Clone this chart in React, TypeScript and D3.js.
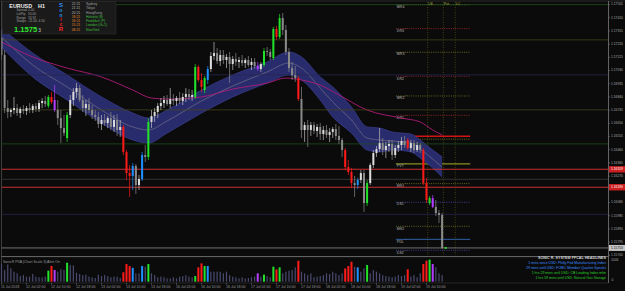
import React from "react";
import * as d3 from "d3";

// ---------- DATA ----------
const timeTickBars = [0, 8, 16, 24, 32, 40, 48, 56, 64, 72, 80, 88, 96, 104, 112, 120, 128, 136];
const timeTickLabels = [
  "11 Jul 2018", "12 Jul 02:00", "12 Jul 10:00", "12 Jul 18:00", "13 Jul 02:00", "13 Jul 10:00",
  "13 Jul 18:00", "16 Jul 02:00", "16 Jul 10:00", "16 Jul 18:00", "17 Jul 02:00", "17 Jul 10:00",
  "17 Jul 18:00", "18 Jul 02:00", "18 Jul 10:00", "18 Jul 18:00", "19 Jul 02:00", "19 Jul 10:00",
];

const priceTicks = [
  1.157, 1.15795, 1.1589, 1.15985, 1.1608, 1.16175, 1.1627, 1.16365, 1.1646, 1.16555,
  1.1665, 1.16745, 1.1684, 1.16935, 1.1703, 1.17125, 1.1722, 1.17315, 1.1741, 1.17505,
];

const opens = [
  1.17264, 1.17142, 1.16760, 1.16732, 1.16746, 1.16760, 1.16724, 1.16753, 1.16739, 1.16760,
  1.16746, 1.16775, 1.16753, 1.16796, 1.16811, 1.16775, 1.16840, 1.16818, 1.16746, 1.16688,
  1.16616, 1.16544, 1.16710, 1.16818, 1.16876, 1.16904, 1.16818, 1.16760, 1.16789, 1.16746,
  1.16710, 1.16696, 1.16645, 1.16674, 1.16652, 1.16688, 1.16624, 1.16674, 1.16602, 1.16624,
  1.16444, 1.16292, 1.16271, 1.16343, 1.16206, 1.16249, 1.16422, 1.16408, 1.16660, 1.16703,
  1.16732, 1.16775, 1.16796, 1.16818, 1.16789, 1.16825, 1.16811, 1.16832, 1.16811, 1.16840,
  1.16861, 1.16840, 1.16840, 1.17056, 1.16962, 1.16890, 1.16962, 1.17041, 1.17135, 1.17156,
  1.17099, 1.17142, 1.17106, 1.17128, 1.17077, 1.17113, 1.17092, 1.17106, 1.17084, 1.17106,
  1.17070, 1.17092, 1.17063, 1.17041, 1.17070, 1.17171, 1.17164, 1.17120, 1.17329, 1.17272,
  1.17408, 1.17322, 1.17164, 1.17048, 1.16998, 1.16976, 1.16825, 1.16602, 1.16638, 1.16602,
  1.16638, 1.16595, 1.16624, 1.16573, 1.16602, 1.16566, 1.16588, 1.16609, 1.16559, 1.16530,
  1.16458, 1.16336, 1.16300, 1.16220, 1.16206, 1.16242, 1.16292, 1.16076, 1.16220, 1.16350,
  1.16436, 1.16465, 1.16508, 1.16458, 1.16487, 1.16501, 1.16422, 1.16472, 1.16494, 1.16523,
  1.16530, 1.16472, 1.16508, 1.16458, 1.16494, 1.16458, 1.16220, 1.16076, 1.16112, 1.16048,
  1.16004, 1.15990,
];
const highs = [
  1.17322, 1.17178, 1.16818, 1.16760, 1.16840, 1.16789, 1.16768, 1.16782, 1.16775, 1.16796,
  1.16789, 1.16796, 1.16818, 1.16832, 1.16847, 1.16854, 1.16876, 1.16926, 1.16818, 1.16746,
  1.16710, 1.16732, 1.16854, 1.16904, 1.16940, 1.16926, 1.16854, 1.16818, 1.16832, 1.16782,
  1.16746, 1.16732, 1.16710, 1.16717, 1.16703, 1.16732, 1.16710, 1.16717, 1.16674, 1.16638,
  1.16458, 1.16350, 1.16364, 1.16357, 1.16278, 1.16444, 1.16494, 1.16688, 1.16746, 1.16760,
  1.16796, 1.16832, 1.16847, 1.16854, 1.16904, 1.16861, 1.16847, 1.16876, 1.16868, 1.16904,
  1.16897, 1.16890, 1.17077, 1.17070, 1.17012, 1.16991, 1.17063, 1.17164, 1.17236, 1.17192,
  1.17178, 1.17178, 1.17149, 1.17164, 1.17135, 1.17156, 1.17128, 1.17142, 1.17120, 1.17135,
  1.17120, 1.17120, 1.17092, 1.17092, 1.17192, 1.17200, 1.17185, 1.17344, 1.17351, 1.17437,
  1.17444, 1.17358, 1.17192, 1.17092, 1.17063, 1.16991, 1.16912, 1.16660, 1.16674, 1.16660,
  1.16660, 1.16645, 1.16652, 1.16631, 1.16638, 1.16616, 1.16624, 1.16645, 1.16631, 1.16544,
  1.16472, 1.16386, 1.16328, 1.16271, 1.16256, 1.16314, 1.16314, 1.16242, 1.16364, 1.16458,
  1.16487, 1.16616, 1.16544, 1.16516, 1.16530, 1.16530, 1.16494, 1.16523, 1.16552, 1.16559,
  1.16544, 1.16530, 1.16530, 1.16516, 1.16508, 1.16472, 1.16256, 1.16127, 1.16134, 1.16098,
  1.16026, 1.16004,
];
const lows = [
  1.17106, 1.16724, 1.16688, 1.16696, 1.16717, 1.16703, 1.16688, 1.16717, 1.16710, 1.16724,
  1.16724, 1.16732, 1.16732, 1.16760, 1.16768, 1.16760, 1.16789, 1.16732, 1.16638, 1.16508,
  1.16559, 1.16516, 1.16688, 1.16775, 1.16832, 1.16804, 1.16732, 1.16703, 1.16724, 1.16681,
  1.16667, 1.16616, 1.16602, 1.16631, 1.16616, 1.16602, 1.16588, 1.16559, 1.16552, 1.16422,
  1.16242, 1.16120, 1.16170, 1.16141, 1.16170, 1.16235, 1.16372, 1.16386, 1.16616, 1.16660,
  1.16688, 1.16746, 1.16760, 1.16775, 1.16760, 1.16782, 1.16775, 1.16789, 1.16782, 1.16804,
  1.16818, 1.16811, 1.16825, 1.16948, 1.16876, 1.16868, 1.16933, 1.17020, 1.17106, 1.17077,
  1.17063, 1.17077, 1.17048, 1.16940, 1.17034, 1.17063, 1.17048, 1.17063, 1.17048, 1.17056,
  1.17034, 1.17041, 1.17027, 1.17020, 1.17056, 1.17135, 1.17106, 1.17106, 1.17250, 1.17257,
  1.17286, 1.17142, 1.17020, 1.16962, 1.16948, 1.16811, 1.16544, 1.16516, 1.16480, 1.16559,
  1.16573, 1.16552, 1.16530, 1.16530, 1.16544, 1.16516, 1.16544, 1.16530, 1.16501, 1.16408,
  1.16314, 1.16278, 1.16184, 1.16120, 1.16177, 1.16220, 1.16012, 1.16055, 1.16206, 1.16328,
  1.16408, 1.16444, 1.16422, 1.16400, 1.16444, 1.16386, 1.16400, 1.16444, 1.16458, 1.16472,
  1.16458, 1.16444, 1.16436, 1.16444, 1.16436, 1.16206, 1.16076, 1.16062, 1.16040, 1.15983,
  1.15932, 1.15745,
];
const closes = [
  1.17142, 1.16760, 1.16732, 1.16746, 1.16760, 1.16724, 1.16753, 1.16739, 1.16760, 1.16746,
  1.16775, 1.16753, 1.16796, 1.16811, 1.16789, 1.16840, 1.16804, 1.16746, 1.16688, 1.16616,
  1.16580, 1.16710, 1.16818, 1.16876, 1.16904, 1.16818, 1.16760, 1.16789, 1.16746, 1.16710,
  1.16696, 1.16645, 1.16674, 1.16652, 1.16688, 1.16624, 1.16674, 1.16602, 1.16624, 1.16444,
  1.16292, 1.16271, 1.16343, 1.16206, 1.16249, 1.16422, 1.16408, 1.16660, 1.16703, 1.16732,
  1.16775, 1.16796, 1.16818, 1.16789, 1.16825, 1.16811, 1.16832, 1.16811, 1.16840, 1.16861,
  1.16840, 1.16854, 1.17056, 1.16962, 1.16912, 1.16976, 1.17041, 1.17135, 1.17156, 1.17099,
  1.17142, 1.17106, 1.17128, 1.17077, 1.17113, 1.17092, 1.17106, 1.17084, 1.17106, 1.17070,
  1.17092, 1.17063, 1.17041, 1.17077, 1.17171, 1.17164, 1.17128, 1.17329, 1.17272, 1.17408,
  1.17322, 1.17164, 1.17048, 1.16998, 1.16976, 1.16825, 1.16602, 1.16638, 1.16602, 1.16638,
  1.16595, 1.16624, 1.16573, 1.16602, 1.16566, 1.16588, 1.16609, 1.16559, 1.16530, 1.16458,
  1.16336, 1.16300, 1.16220, 1.16206, 1.16242, 1.16292, 1.16076, 1.16220, 1.16350, 1.16436,
  1.16465, 1.16508, 1.16458, 1.16487, 1.16501, 1.16422, 1.16472, 1.16494, 1.16523, 1.16494,
  1.16472, 1.16508, 1.16458, 1.16494, 1.16458, 1.16220, 1.16098, 1.16112, 1.16048, 1.16004,
  1.15990, 1.15752,
];

const volumes = [
  800, 530, 780, 605, 455, 380, 255, 300, 225, 230,
  350, 225, 200, 200, 230, 500, 710, 530, 455, 560,
  530, 860, 755, 740, 410, 350, 300, 320, 230, 200,
  170, 320, 255, 300, 255, 200, 230, 230, 170, 425,
  800, 710, 630, 380, 380, 710, 680, 800, 380, 300,
  200, 230, 200, 150, 150, 200, 150, 230, 255, 290,
  230, 200, 255, 650, 830, 710, 710, 455, 455, 455,
  455, 380, 455, 300, 230, 200, 150, 200, 150, 170,
  200, 230, 380, 230, 320, 255, 200, 680, 560, 650,
  380, 455, 500, 530, 650, 950, 455, 380, 300, 380,
  200, 230, 255, 300, 380, 350, 455, 380, 300, 380,
  600, 710, 905, 680, 650, 455, 605, 755, 380, 530,
  455, 380, 300, 255, 230, 200, 230, 300, 255, 300,
  560, 230, 300, 200, 380, 800, 950, 1000, 800, 650,
  380, 300,
];

// PVA coloured bars (g = bull climax, r = bear climax, b / m = rising volume)
const pvaBars = [15, 16, 17, 21, 39, 40, 41, 42, 45, 47, 62, 63, 64, 65, 66, 82, 84, 87, 88, 89, 95, 110, 111, 112, 114, 117, 130, 135, 136, 137, 138];
const pvaCodes = ["g", "r", "m", "g", "r", "r", "r", "b", "b", "g", "g", "r", "r", "g", "b", "m", "g", "g", "r", "g", "r", "r", "r", "r", "b", "g", "r", "r", "r", "g", "m"];

// Dragon band (EMA34 high / close / low)
const bandBars = [0, 10, 21, 32, 42, 47, 53, 64, 74, 85, 92, 96, 102, 106, 112, 117, 121, 125, 131, 134, 138, 141];
const bandUpper = [1.17336, 1.17156, 1.16998, 1.16840, 1.16724, 1.16688, 1.16746, 1.16890, 1.16998, 1.17092, 1.17164, 1.17128, 1.16984, 1.16912, 1.16768, 1.16624, 1.16616, 1.16588, 1.16573, 1.16530, 1.16458, 1.16408];
const bandMid = [1.17272, 1.17070, 1.16912, 1.16746, 1.16624, 1.16602, 1.16667, 1.16811, 1.16919, 1.17020, 1.17084, 1.17048, 1.16904, 1.16804, 1.16674, 1.16544, 1.16530, 1.16523, 1.16508, 1.16465, 1.16393, 1.16336];
const bandLower = [1.17200, 1.16984, 1.16818, 1.16652, 1.16530, 1.16508, 1.16580, 1.16724, 1.16840, 1.16940, 1.16998, 1.16962, 1.16818, 1.16696, 1.16580, 1.16458, 1.16444, 1.16458, 1.16444, 1.16400, 1.16328, 1.16264];

// EMA 89
const emaBars = [0, 10, 21, 32, 42, 48, 53, 64, 74, 85, 91, 96, 102, 108, 117, 128, 134, 138, 141];
const ema89 = [1.17236, 1.17128, 1.17048, 1.16984, 1.16890, 1.16832, 1.16825, 1.16840, 1.16897, 1.16940, 1.16976, 1.16962, 1.16926, 1.16854, 1.16746, 1.16688, 1.16660, 1.16602, 1.16566];

// full-width horizontal levels
const hLinePrices = [1.17505, 1.17251, 1.16999, 1.16747, 1.16502, 1.16319, 1.16247, 1.1619, 1.15995];
const hLineKinds = ["green", "olive", "navy", "olive", "green", "red", "gray", "red", "navy"];
const redTagPrices = [1.16319, 1.1619];
const bidPrice = 1.15753;

// pivot levels
const pivotNames = ["MR4", "DR3", "MR3", "DR2", "MR2", "DR1", "PDH", "MR1", "PVT", "MS1", "DS1", "MS2", "PDL", "DS2"];
const pivotPrices = [1.17504, 1.17332, 1.17162, 1.16989, 1.16847, 1.16708, 1.16557, 1.16536, 1.16358, 1.16216, 1.16082, 1.15909, 1.15815, 1.15736];

const markerBars = [136.4, 141.4, 145.2];
const markerLabels = ["LB", "Pvt", "LC"];

const infoLabels = ["Spread", "LotPip", "Range", "Swaps"];
const infoValues = ["2.00", "10.00", "74.92", "-11.00, 4.50"];
const sonicLetters = ["S", "o", "n", "i", "c", "R"];
const sessionTimes = ["22:21", "21:21", "20:21", "18:21", "16:21", "15:21", "08:21"];
const sessionNames = ["Sydney", "Tokyo", "HongKong", "Helsinki (8)", "Frankfurt (P)", "London (G+1)", "NewYork"];

const headlines = [
  "1 mins since USD: Philly Fed Manufacturing Index",
  "29 mins until USD: FOMC Member Quarles Speaks",
  "1 hrs 29 mins until USD: CB Leading Index m/m",
  "1 hrs 59 mins until USD: Natural Gas Storage",
];
const volumeMax = 1006;

// ---------- STYLE ----------
const FONT = "Liberation Sans, Arial, sans-serif";
const PVA_COLORS: Record<string, string> = { g: "#22e22a", r: "#ff1a1a", b: "#1e90ff", m: "#b43cff" };
const HLINE_COLORS: Record<string, string> = {
  green: "#1d4d1d", olive: "#45451a", navy: "#262650", red: "#c83030", gray: "#3c3c3c",
};

function pivotStyle(name: string) {
  if (name === "PVT") return { stroke: "#8c8c22", dash: "", w: 1.2 };
  if (name === "PDL") return { stroke: "#2f60a8", dash: "", w: 1 };
  if (name === "PDH") return { stroke: "#d01414", dash: "", w: 1.4 };
  if (name.startsWith("DR")) return { stroke: "#b02a2a", dash: "1,1.2", w: 0.8 };
  if (name.startsWith("DS")) return { stroke: "#4848b0", dash: "1,1.2", w: 0.8 };
  return { stroke: "#7e7e24", dash: "1,1.2", w: 0.8 };
}

export default function App() {
  const x = d3.scaleLinear().domain([0, 141]).range([1.5, 442.1]);
  const y = d3.scaleLinear().domain([1.157, 1.17538]).range([255.3, 0]);
  const yv = d3.scaleLinear().domain([0, volumeMax]).range([281.7, 259.5]);
  const fmt = d3.format(".5f");

  const pva = new Map<number, string>();
  pvaBars.forEach((b, k) => pva.set(b, pvaCodes[k]));

  const bandData = bandBars.map((b, k) => ({ b, u: bandUpper[k], m: bandMid[k], l: bandLower[k] }));
  const area = d3.area<any>().x(d => x(d.b)).y0(d => y(d.l)).y1(d => y(d.u)).curve(d3.curveMonotoneX);
  const lineU = d3.line<any>().x(d => x(d.b)).y(d => y(d.u)).curve(d3.curveMonotoneX);
  const lineL = d3.line<any>().x(d => x(d.b)).y(d => y(d.l)).curve(d3.curveMonotoneX);
  const lineM = d3.line<any>().x(d => x(d.b)).y(d => y(d.m)).curve(d3.curveMonotoneX);
  const emaLine = d3.line<number>().x((_, k) => x(emaBars[k])).y(d => y(d)).curve(d3.curveMonotoneX);

  const segX0 = x(126.2);
  const segX1 = x(150);
  const axisX = 608.5;

  const tagYs = [...redTagPrices, bidPrice].map(p => y(p));
  const visibleTicks = priceTicks.filter(p => tagYs.every(ty => Math.abs(ty - y(p)) > 4.5));

  return (
    <div style={{ position: "fixed", left: 0, top: 0, width: 625, height: 291, background: "#0b0b0b" }}>
      <svg width={625} height={291} style={{ display: "block", fontFamily: FONT }}>
        <rect x={0} y={0} width={625} height={291} fill="#0b0b0b" />
        <defs>
          <clipPath id="main">
            <rect x={1.5} y={1.5} width={axisX - 1.5} height={254} />
          </clipPath>
        </defs>

        {/* frame */}
        <line x1={0} x2={625} y1={1} y2={1} stroke="#2a2a2a" />
        <line x1={1.5} x2={1.5} y1={1} y2={283} stroke="#4a4a4a" strokeWidth={0.8} />

        <g clipPath="url(#main)">
          {/* vertical markers */}
          {markerBars.map((b, k) => (
            <line key={"vm" + k} x1={x(b)} x2={x(b)} y1={2} y2={255} stroke="#5a5a1c" strokeWidth={0.7} strokeDasharray="1,1.5" />
          ))}
          {/* pivot segments */}
          {pivotNames.map((n, k) => {
            const s = pivotStyle(n);
            const py = y(pivotPrices[k]);
            return (
              <g key={"pv" + k}>
                <line x1={segX0} x2={segX1} y1={py} y2={py} stroke={s.stroke} strokeWidth={s.w} strokeDasharray={s.dash || undefined} />
                <text x={segX0 + 1} y={py + 2.3} fontSize={3.6} fill="#b4b4b4" dominantBaseline="middle">
                  {n}
                  <tspan fontSize={2.6} dy={-0.8}> ˉˉ</tspan>
                </text>
              </g>
            );
          })}

          {/* dragon band */}
          <path d={area(bandData) || ""} fill="#292c6c" />
          <path d={lineU(bandData) || ""} fill="none" stroke="#383c8a" strokeWidth={0.8} />
          <path d={lineL(bandData) || ""} fill="none" stroke="#383c8a" strokeWidth={0.8} />
          <path d={lineM(bandData) || ""} fill="none" stroke="#74749a" strokeWidth={1.0} />
          <path d={lineM(bandData) || ""} fill="none" stroke="#24244c" strokeWidth={0.4} />

          {/* EMA 89 */}
          <path d={emaLine(ema89) || ""} fill="none" stroke="#b01c78" strokeWidth={0.9} />

          {/* full-width levels */}
          {hLinePrices.map((p, k) => (
            <line key={"hl" + k} x1={1.5} x2={axisX} y1={y(p)} y2={y(p)} stroke={HLINE_COLORS[hLineKinds[k]]}
              strokeWidth={hLineKinds[k] === "red" ? 1.1 : 0.8} />
          ))}
          <line x1={1.5} x2={axisX} y1={y(bidPrice)} y2={y(bidPrice)} stroke="#8c8c8c" strokeWidth={0.8} />

          {/* candles */}
          {opens.map((o, i) => {
            const c = closes[i];
            const code = pva.get(i);
            const bull = c >= o;
            const col = code ? PVA_COLORS[code] : bull ? "#dcdcdc" : "#8a8a8a";
            const wick = code ? PVA_COLORS[code] : bull ? "#bdbdbd" : "#8a8a8a";
            const cx = x(i);
            const top = y(Math.max(o, c));
            const h = Math.max(0.8, Math.abs(y(o) - y(c)));
            return (
              <g key={"c" + i}>
                <line x1={cx} x2={cx} y1={y(highs[i])} y2={y(lows[i])} stroke={wick} strokeWidth={0.7} />
                <rect x={cx - 1} y={top} width={2} height={h} fill={col} />
              </g>
            );
          })}
          {/* current price marker */}
          <rect x={x(141) + 2.6} y={y(bidPrice) - 0.9} width={2} height={1.8} fill="#22e22a" />
        </g>

        {/* marker labels */}
        {markerBars.map((b, k) => (
          <text key={"ml" + k} x={x(b) + 0.5} y={4.3} fontSize={3.6} fill="#a6a63a" dominantBaseline="middle">{markerLabels[k]}</text>
        ))}

        {/* separator */}
        <line x1={1.5} x2={axisX} y1={256.6} y2={256.6} stroke="#6a6a6a" strokeWidth={1} />

        {/* price axis */}
        <line x1={axisX} x2={axisX} y1={1} y2={283} stroke="#7a7a7a" strokeWidth={0.8} />
        {visibleTicks.map((p, k) => (
          <g key={"pt" + k}>
            <line x1={axisX} x2={axisX + 1.5} y1={y(p)} y2={y(p)} stroke="#7a7a7a" strokeWidth={0.6} />
            <text x={611} y={y(p)} fontSize={3.3} fill="#a8a8a8" dominantBaseline="middle">{fmt(p)}</text>
          </g>
        ))}
        {redTagPrices.map((p, k) => (
          <g key={"rt" + k}>
            <rect x={axisX + 0.5} y={y(p) - 3.2} width={16.5} height={6.4} fill="#cc2020" />
            <text x={611} y={y(p) + 0.1} fontSize={3.3} fill="#ffffff" dominantBaseline="middle">{fmt(p)}</text>
          </g>
        ))}
        <rect x={axisX + 0.5} y={y(bidPrice) - 3} width={16.5} height={6} fill="#c4c4c4" />
        <text x={611} y={y(bidPrice) + 0.1} fontSize={3.3} fill="#1a1a1a" dominantBaseline="middle">{fmt(bidPrice)}</text>

        {/* volume panel */}
        {volumes.map((v, i) => {
          const code = pva.get(i);
          const w = code ? 2 : 1.2;
          return (
            <rect key={"v" + i} x={x(i) - w / 2} y={yv(v)} width={w} height={yv(0) - yv(v)}
              fill={code ? PVA_COLORS[code] : "#4a4a70"} />
          );
        })}
        <text x={3} y={262} fontSize={3.5} fill="#9a9a9a" dominantBaseline="middle">
          SonicR PVA  (Chart Scale 3)   Alert On
        </text>
        <text x={611} y={260.3} fontSize={3.3} fill="#a8a8a8" dominantBaseline="middle">{volumeMax}</text>
        <text x={611.5} y={280.3} fontSize={3.3} fill="#a8a8a8" dominantBaseline="middle">0</text>

        {/* headlines */}
        <text x={606} y={258.4} fontSize={3.7} fill="#d2d2d2" textAnchor="end" dominantBaseline="middle" fontWeight="bold">
          SONIC R. SYSTEM  FFCAL HEADLINES
        </text>
        {headlines.map((h, k) => (
          <text key={"hd" + k} x={606} y={263.4 + k * 4.8} fontSize={3.5} textAnchor="end" dominantBaseline="middle"
            fill={k < 2 ? "#3c8cff" : "#2ad02a"}>{h}</text>
        ))}

        {/* time axis */}
        <line x1={1.5} x2={axisX} y1={283} y2={283} stroke="#3a3a3a" strokeWidth={0.6} />
        {timeTickBars.map((b, k) => (
          <g key={"tt" + k}>
            <line x1={x(b)} x2={x(b)} y1={283} y2={284.5} stroke="#7a7a7a" strokeWidth={0.6} />
            <text x={x(b) - 0.5} y={286.6} fontSize={3.6} fill="#9a9a9a" dominantBaseline="middle">{timeTickLabels[k]}</text>
          </g>
        ))}

        {/* info panel */}
        <rect x={2.5} y={1.5} width={113.5} height={32.5} fill="#1a1a1a" stroke="#2e2e2e" strokeWidth={0.6} />
        <text x={9.3} y={8} fontSize={5.4} fontWeight="bold" fill="#f0f0f0">EURUSD</text>
        <text x={38} y={8} fontSize={5.4} fontWeight="bold" fill="#f0f0f0">H1</text>
        {infoLabels.map((l, k) => (
          <g key={"il" + k}>
            <text x={16.5} y={10.4 + k * 3.65} fontSize={3.2} fill="#a0a0a0" dominantBaseline="middle">{l}</text>
            <text x={28} y={10.4 + k * 3.65} fontSize={3.2} fill="#a0a0a0" dominantBaseline="middle">{infoValues[k]}</text>
          </g>
        ))}
        <text x={14} y={32} fontSize={7.6} fontWeight="bold" fill="#2ee82e">1.1575</text>
        <text x={38.3} y={32} fontSize={4.8} fill="#c8c8c8">3</text>
        {sonicLetters.map((s, k) => (
          <text key={"sl" + k} x={61} y={[5.4, 10.6, 15.6, 20.2, 24.6, 29.6][k]} textAnchor="middle" dominantBaseline="middle"
            fontSize={k === 0 || k === 5 ? 6 : 4.6} fontWeight="bold" fill={k < 3 ? "#2f8fff" : "#ff2424"}>{s}</text>
        ))}
        {sessionTimes.map((t, k) => (
          <g key={"ss" + k}>
            <text x={71.7} y={4.3 + k * 4.23} fontSize={3.4} fill={k < 3 ? "#b4b4b4" : "#e08a28"} dominantBaseline="middle">{t}</text>
            <text x={86} y={4.3 + k * 4.23} fontSize={3.4} fill={k < 3 ? "#a0a0a0" : "#3cc03c"} dominantBaseline="middle">{sessionNames[k]}</text>
          </g>
        ))}
      </svg>
    </div>
  );
}
